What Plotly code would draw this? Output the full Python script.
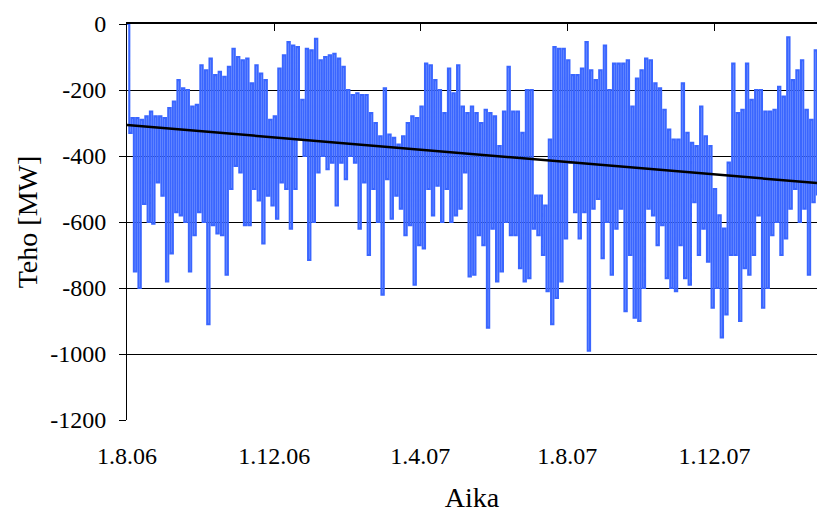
import pandas as pd
import plotly.graph_objects as go

# Estimated envelope (window highs / lows, MW), in time order
highs = [0, -285, -285, -290, -280, -265, -280, -280, -285, -255, -235, -170, -195, -200, -250, -245,
         -125, -140, -105, -155, -145, -160, -130, -75, -100, -110,
         -105, -180, -125, -150, -170, -290, -280, -135, -95, -55, -65, -70, -230, -75, -80, -45,
         -110, -100, -95, -90, -105, -130, -200, -215, -210, -215, -215,
         -270, -300, -340, -195, -335, -345, -365, -340, -300, -280, -285, -250, -120, -125, -170,
         -200, -270, -135, -210, -125, -250, -270, -250, -270, -300,
         -260, -270, -280, -370, -265, -130, -265, -265, -330, -200, -200, -520, -520, -550, -350,
         -70, -75, -75, -110, -155, -155, -135, -55, -140, -170,
         -140, -65, -200, -120, -120, -120, -110, -250, -165, -140, -105, -110, -180, -195, -260,
         -320, -350, -350, -180, -330, -360, -370, -250, -340,
         -370, -500, -580, -620, -420, -120, -270, -260, -120, -230, -200, -200, -265, -265, -260,
         -190, -220, -40, -170, -140, -110, -260, -290, -80]
lows = [-330, -750, -800, -545, -600, -605, -480, -520, -780, -695, -570, -580, -600, -750, -640, -570,
        -600, -910, -610, -635, -640, -760, -500, -430, -450, -610,
        -610, -500, -535, -665, -520, -550, -590, -480, -500, -620, -500, -350, -400, -715, -600, -450,
        -400, -440, -420, -550, -420, -470, -400, -420, -620, -480, -700,
        -500, -600, -820, -470, -590, -520, -560, -640, -610, -790, -670, -680, -500, -580, -490,
        -600, -500, -600, -580, -560, -450, -765, -760, -640, -670,
        -920, -620, -780, -750, -600, -640, -640, -740, -780, -770, -620, -640, -700, -810, -910,
        -830, -780, -650, -420, -570, -650, -570, -990, -560, -530,
        -710, -600, -760, -620, -560, -870, -700, -890, -900, -800, -560, -580, -670, -610, -770,
        -800, -810, -670, -770, -790, -540, -700, -620, -720,
        -860, -800, -950, -880, -700, -700, -900, -740, -760, -700, -580, -860, -800, -640, -600,
        -700, -650, -560, -500, -600, -560, -760, -540, -520]

start_date = "2006-08-01"
end_date = "2008-02-24"

trend_dates = [start_date, end_date]
trend_values = [-306, -482]

tick_dates = ["2006-08-01", "2006-12-01", "2007-04-01", "2007-08-01", "2007-12-01"]
tick_labels = ["1.8.06", "1.12.06", "1.4.07", "1.8.07", "1.12.07"]

y_ticks = [0, -200, -400, -600, -800, -1000, -1200]
y_labels = ["0", "-200", "-400", "-600", "-800", "-1000", "-1200"]

series = []
for h, l in zip(highs, lows):
    series += [h, l]
dates = pd.date_range(start_date, end_date, periods=len(series))

FONT = "Liberation Serif"

fig = go.Figure()
fig.add_trace(go.Scatter(x=dates, y=series, mode="lines",
                         line=dict(color="#3A66FF", width=2.1, shape="hv"),
                         showlegend=False, hoverinfo="skip"))
fig.add_trace(go.Scatter(x=trend_dates, y=trend_values, mode="lines",
                         line=dict(color="black", width=2.5), showlegend=False,
                         xaxis="x2", yaxis="y", hoverinfo="skip"))

fig.update_layout(
    width=817, height=513,
    margin=dict(l=127, r=0, t=24, b=93, autoexpand=False),
    paper_bgcolor="white", plot_bgcolor="white",
    font=dict(family=FONT, color="black", size=24),
    xaxis=dict(type="date", range=[start_date, end_date], automargin=False,
               tickvals=tick_dates, ticktext=tick_labels,
               ticks="", showgrid=False, showline=False, zeroline=False,
               tickfont=dict(size=24), ticklabelstandoff=19,
               title=dict(text="Aika", font=dict(size=28), standoff=20)),
    xaxis2=dict(type="date", overlaying="x", matches="x", side="top", anchor="y",
                automargin=False,
                tickvals=tick_dates, showticklabels=False,
                ticks="inside", ticklen=7, tickcolor="black", tickwidth=1,
                showline=True, linecolor="black", linewidth=1.5,
                showgrid=False, zeroline=False),
    yaxis=dict(range=[-1200, 0], tickvals=y_ticks, ticktext=y_labels, automargin=False,
               showgrid=True, gridcolor="black", gridwidth=1,
               zeroline=False, showline=True, linecolor="black", linewidth=1,
               ticks="outside", ticklen=7, tickcolor="black",
               tickfont=dict(size=24), ticklabelstandoff=8,
               title=dict(text="Teho [MW]", font=dict(size=28), standoff=4)),
)

fig.write_html(
    "out.html",
    config={"displayModeBar": False},
    post_script="document.body.style.margin='0';document.body.style.overflow='hidden';",
)
